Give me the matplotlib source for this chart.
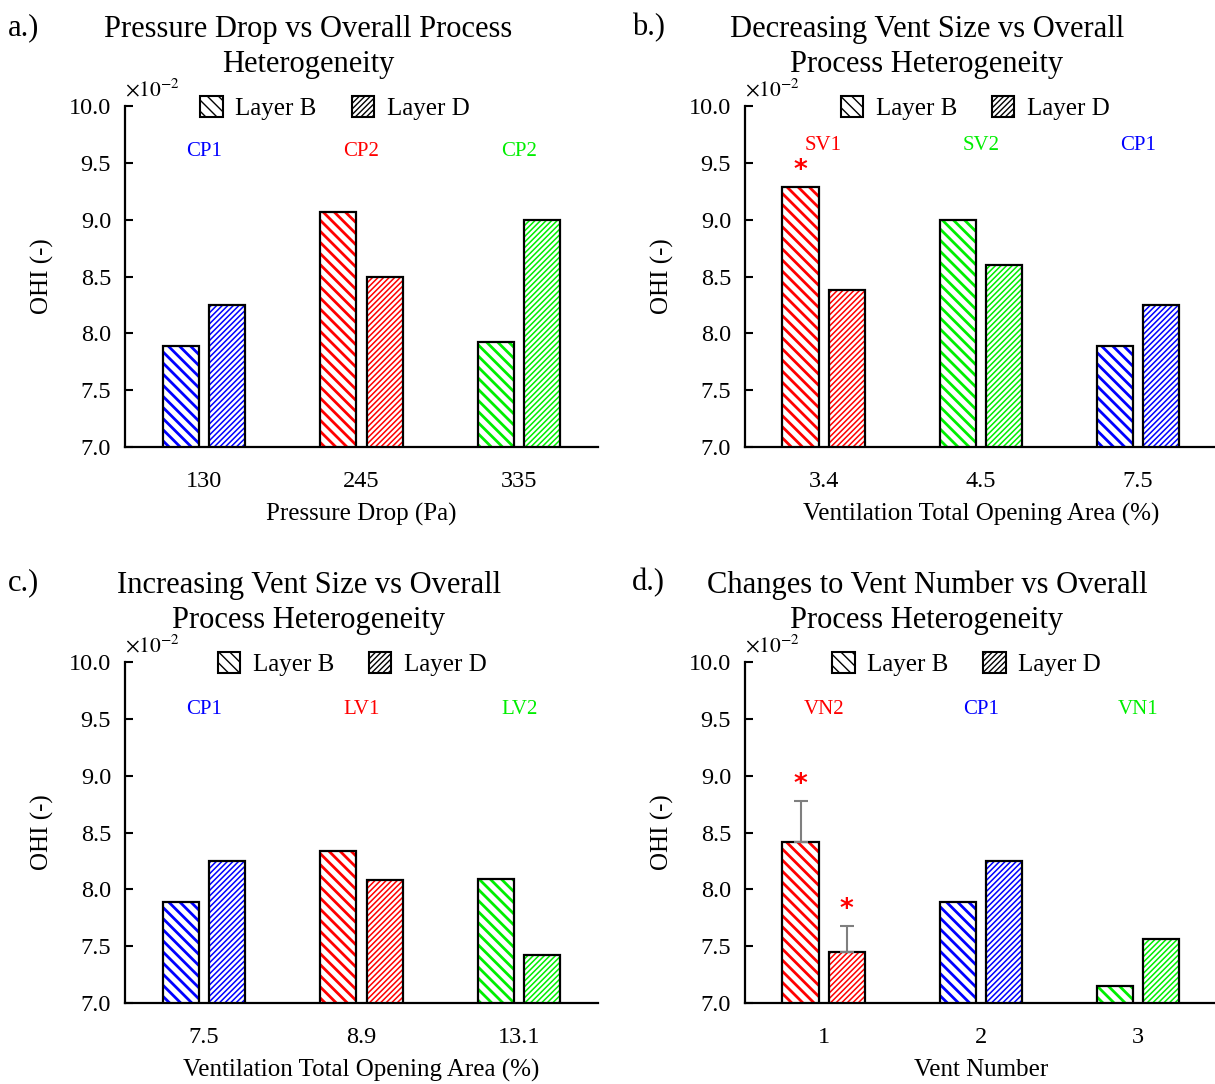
import matplotlib
matplotlib.use('Agg')
import matplotlib.pyplot as plt
from matplotlib.patches import Patch
import numpy as np

plt.rcParams['font.family'] = ['Liberation Serif', 'DejaVu Serif']
plt.rcParams['mathtext.fontset'] = 'stix'

# ---------------- data ----------------
a_categories = ['130', '245', '335']
a_layer_b = [7.89, 9.07, 7.92]
a_layer_d = [8.25, 8.50, 9.00]
a_groups = ['CP1', 'CP2', 'CP2']
a_colors = ['#0000ff', '#ff0000', '#00ee00']
a_err_b = [0, 0, 0]
a_err_d = [0, 0, 0]
a_star_b = [False, False, False]
a_star_d = [False, False, False]

b_categories = ['3.4', '4.5', '7.5']
b_layer_b = [9.29, 9.00, 7.89]
b_layer_d = [8.38, 8.60, 8.25]
b_groups = ['SV1', 'SV2', 'CP1']
b_colors = ['#ff0000', '#00ee00', '#0000ff']
b_err_b = [0, 0, 0]
b_err_d = [0, 0, 0]
b_star_b = [True, False, False]
b_star_d = [False, False, False]

c_categories = ['7.5', '8.9', '13.1']
c_layer_b = [7.89, 8.34, 8.09]
c_layer_d = [8.25, 8.08, 7.42]
c_groups = ['CP1', 'LV1', 'LV2']
c_colors = ['#0000ff', '#ff0000', '#00ee00']
c_err_b = [0, 0, 0]
c_err_d = [0, 0, 0]
c_star_b = [False, False, False]
c_star_d = [False, False, False]

d_categories = ['1', '2', '3']
d_layer_b = [8.42, 7.89, 7.15]
d_layer_d = [7.45, 8.25, 7.56]
d_groups = ['VN2', 'CP1', 'VN1']
d_colors = ['#ff0000', '#0000ff', '#00ee00']
d_err_b = [0.36, 0, 0]
d_err_d = [0.23, 0, 0]
d_star_b = [True, False, False]
d_star_d = [True, False, False]

titles = ['Pressure Drop vs Overall Process\nHeterogeneity',
          'Decreasing Vent Size vs Overall\nProcess Heterogeneity',
          'Increasing Vent Size vs Overall\nProcess Heterogeneity',
          'Changes to Vent Number vs Overall\nProcess Heterogeneity']
letters = ['a.)', 'b.)', 'c.)', 'd.)']
xlabels = ['Pressure Drop (Pa)', 'Ventilation Total Opening Area (%)',
           'Ventilation Total Opening Area (%)', 'Vent Number']
ylabel = 'OHI (-)'
legend_labels = ['Layer B', 'Layer D']
yticks = [7.0, 7.5, 8.0, 8.5, 9.0, 9.5, 10.0]

panels = [
    (a_categories, a_layer_b, a_layer_d, a_groups, a_colors, a_err_b, a_err_d, a_star_b, a_star_d),
    (b_categories, b_layer_b, b_layer_d, b_groups, b_colors, b_err_b, b_err_d, b_star_b, b_star_d),
    (c_categories, c_layer_b, c_layer_d, c_groups, c_colors, c_err_b, c_err_d, c_star_b, c_star_d),
    (d_categories, d_layer_b, d_layer_d, d_groups, d_colors, d_err_b, d_err_d, d_star_b, d_star_d),
]

# ---------------- layout ----------------
positions = [[0.1029, 0.5876, 0.3893, 0.3146],
             [0.6132, 0.5876, 0.3880, 0.3146],
             [0.1029, 0.0747, 0.3893, 0.3146],
             [0.6132, 0.0747, 0.3880, 0.3146]]
legend_x = [0.444, 0.488, 0.48, 0.47]
group_label_y = [9.6, 9.65, 9.58, 9.58]
title_pos = [(308, 47), (927, 47), (309, 603), (927, 603)]
letter_pos = [(8, 28), (632, 28), (8, 583), (632, 583)]

W, H = 1215, 1084
fig = plt.figure(figsize=(W / 100, H / 100), dpi=100)

HATCH_B = '\\\\\\'
HATCH_D = '//////'
BW = 0.23
OFF = 0.147


def hatched_bars(ax, x, vals, colors, hatch, hlw):
    with plt.rc_context({'hatch.linewidth': hlw}):
        bars = ax.bar(x, vals, width=BW, color='white', edgecolor=colors,
                      linewidth=0, hatch=hatch, zorder=2)
    for p in bars:
        if hasattr(p, 'set_hatch_linewidth'):
            p.set_hatch_linewidth(hlw)
    ax.bar(x, vals, width=BW, fill=False, edgecolor='black', linewidth=1.6, zorder=3)


for i, (cats, lb, ld, groups, cols, eb, ed, sb, sd) in enumerate(panels):
    ax = fig.add_axes(positions[i])
    x = np.arange(len(cats))
    hatched_bars(ax, x - OFF, lb, cols, HATCH_B, 2.0)
    hatched_bars(ax, x + OFF, ld, cols, HATCH_D, 1.1)

    # error bars (upper only)
    for xs, vals, errs, stars in ((x - OFF, lb, eb, sb), (x + OFF, ld, ed, sd)):
        for xi, v, e, s in zip(xs, vals, errs, stars):
            top = v
            if e > 0:
                ax.errorbar([xi], [v], yerr=[[0], [e]], fmt='none', ecolor='#7f7f7f',
                            elinewidth=1.5, capsize=5, capthick=1.5, zorder=4)
                top = v + e
            if s:
                ax.annotate('*', xy=(xi, top), xytext=(0, 11), textcoords='offset points',
                            ha='center', va='center', color='#ff0000', fontsize=19,
                            fontweight='bold', family=['DejaVu Sans'])

    for xi, g, c in zip(x, groups, cols):
        ax.text(xi, group_label_y[i], g, color=c, ha='center', va='center', fontsize=15)

    ax.set_xlim(-0.5, 2.5)
    ax.set_ylim(7.0, 10.0)
    ax.set_yticks(yticks)
    ax.set_yticklabels(['%.1f' % t for t in yticks])
    ax.set_xticks(x)
    ax.set_xticklabels(cats)
    ax.tick_params(axis='y', direction='in', length=6, width=1.5, labelsize=17.5, pad=10)
    ax.tick_params(axis='x', length=0, labelsize=17.5, pad=17)
    for sp in ['top', 'right']:
        ax.spines[sp].set_visible(False)
    for sp in ['left', 'bottom']:
        ax.spines[sp].set_linewidth(1.6)
    ax.set_xlabel(xlabels[i], fontsize=18)
    ax.xaxis.set_label_coords(0.5, -0.165)
    ax.set_ylabel(ylabel, fontsize=18)
    ax.yaxis.set_label_coords(-0.15, 0.5)

    ax.text(0.0, 1.047, r'$\times10^{-2}$', transform=ax.transAxes, ha='left',
            va='center', fontsize=15.5)

    handles = [Patch(facecolor='white', edgecolor='black', hatch=HATCH_B, linewidth=1.5),
               Patch(facecolor='white', edgecolor='black', hatch=HATCH_D, linewidth=1.5)]
    ax.legend(handles, legend_labels, loc='center', bbox_to_anchor=(legend_x[i], 0.994),
              ncol=2, frameon=False, fontsize=18, handlelength=0.9, handleheight=0.9,
              handletextpad=0.5, columnspacing=1.4, borderpad=0)

    tx, ty = title_pos[i]
    fig.text(tx / W, 1 - ty / H, titles[i], ha='center', va='center', fontsize=22,
             linespacing=1.25)
    lx, ly = letter_pos[i]
    fig.text(lx / W, 1 - ly / H, letters[i], ha='left', va='center', fontsize=22)

fig.savefig('out.png', dpi=100)
